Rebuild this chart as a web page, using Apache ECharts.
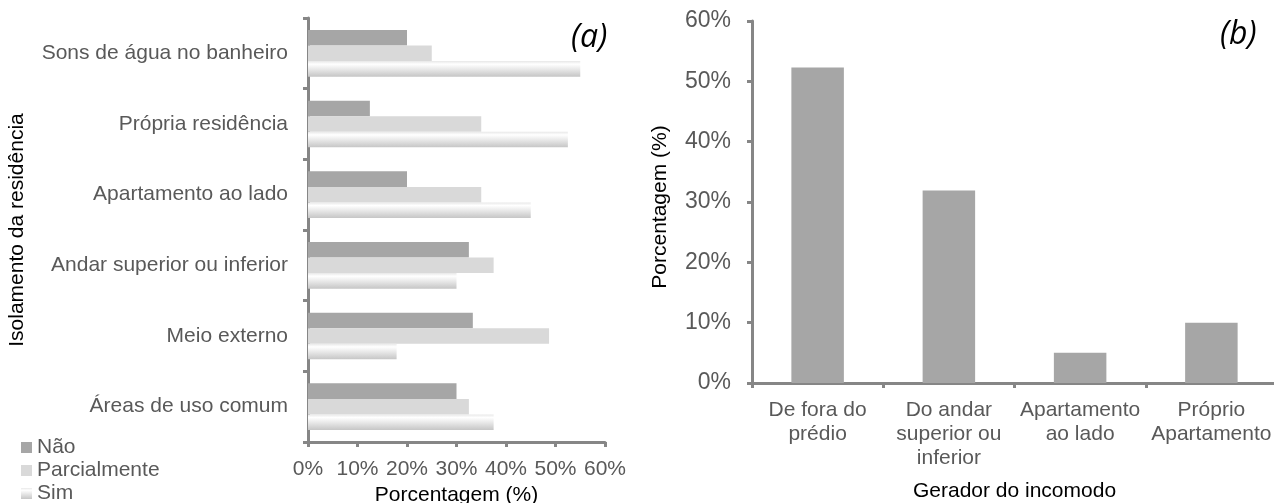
<!DOCTYPE html>
<html>
<head>
<meta charset="utf-8">
<script src="https://cdn.jsdelivr.net/npm/echarts@6/dist/echarts.min.js"></script>
<style>
  html, body { margin: 0; padding: 0; background: #ffffff; }
  #chart { width: 1274px; height: 503px; }
</style>
</head>
<body>
<div id="chart"></div>
<script>
// (a) Isolamento da residência, por fonte de ruído
const categoriesA = [
  'Sons de água no banheiro',
  'Própria residência',
  'Apartamento ao lado',
  'Andar superior ou inferior',
  'Meio externo',
  'Áreas de uso comum'
];
const seriesNames = ['Não', 'Parcialmente', 'Sim'];
const naoValues = [20, 12.5, 20, 32.5, 33.3, 30];
const parcialValues = [25, 35, 35, 37.5, 48.7, 32.5];
const simValues = [55, 52.5, 45, 30, 17.9, 37.5];

// (b) Gerador do incomodo
const categoriesB = [
  'De fora do\nprédio',
  'Do andar\nsuperior ou\ninferior',
  'Apartamento\nao lado',
  'Próprio\nApartamento'
];
const geradorValues = [52.3, 31.9, 5, 10];

// Percentage axis range shared by both panels
const pctMin = 0;
const pctMax = 60;
const pctStep = 10;

const FONT = '"Liberation Sans", Arial, sans-serif';
const AXIS_GRAY = '#868686';
const LABEL_GRAY = '#595959';

const simGradient = new echarts.graphic.LinearGradient(0, 0, 0, 1, [
  { offset: 0, color: '#e8e8e8' },
  { offset: 0.2, color: '#ffffff' },
  { offset: 1, color: '#c6c6c6' }
]);

const axisLine = { show: true, lineStyle: { color: AXIS_GRAY, width: 3 } };
const axisTick = { show: true, length: 5, lineStyle: { color: AXIS_GRAY, width: 3 } };

const chart = echarts.init(document.getElementById('chart'), null, { renderer: 'canvas' });

chart.setOption({
  animation: false,
  textStyle: { fontFamily: FONT },
  grid: [
    { left: 308, top: 18, width: 297, height: 424, containLabel: false, outerBoundsMode: 'none' },
    { left: 752, top: 21, width: 525, height: 362, containLabel: false, outerBoundsMode: 'none' }
  ],
  legend: {
    data: seriesNames,
    orient: 'vertical',
    left: 21,
    top: 437,
    width: 200,
    height: 90,
    padding: 0,
    itemWidth: 11,
    itemHeight: 11,
    itemGap: 2,
    icon: 'rect',
    textStyle: { fontSize: 21, color: LABEL_GRAY, fontFamily: FONT }
  },
  xAxis: [
    {
      gridIndex: 0,
      type: 'value',
      min: pctMin,
      max: pctMax,
      interval: pctStep,
      axisLine: axisLine,
      axisTick: axisTick,
      splitLine: { show: false },
      axisLabel: { formatter: '{value}%', fontSize: 21, color: LABEL_GRAY, margin: 17 },
      name: 'Porcentagem (%)',
      nameLocation: 'middle',
      nameGap: 42,
      nameTextStyle: { fontSize: 21, color: '#000000' }
    },
    {
      gridIndex: 1,
      type: 'category',
      data: categoriesB,
      axisLine: axisLine,
      axisTick: axisTick,
      axisLabel: { fontSize: 21, color: LABEL_GRAY, lineHeight: 24, margin: 15, interval: 0 },
      name: 'Gerador do incomodo',
      nameLocation: 'middle',
      nameGap: 98,
      nameTextStyle: { fontSize: 21, color: '#000000' }
    }
  ],
  yAxis: [
    {
      gridIndex: 0,
      type: 'category',
      data: categoriesA,
      inverse: true,
      axisLine: axisLine,
      axisTick: axisTick,
      axisLabel: { fontSize: 21, color: LABEL_GRAY, margin: 20, interval: 0 },
      name: 'Isolamento da residência',
      nameLocation: 'middle',
      nameGap: 280,
      nameTextStyle: { fontSize: 21, color: '#000000' }
    },
    {
      gridIndex: 1,
      type: 'value',
      min: pctMin,
      max: pctMax,
      interval: pctStep,
      axisLine: axisLine,
      axisTick: axisTick,
      splitLine: { show: false },
      axisLabel: { formatter: '{value}%', fontSize: 23, color: LABEL_GRAY, margin: 21 },
      name: 'Porcentagem (%)',
      nameLocation: 'middle',
      nameGap: 81,
      nameTextStyle: { fontSize: 21, color: '#000000', padding: [0, 10, 0, 0] }
    }
  ],
  series: [
    {
      name: seriesNames[0],
      type: 'bar',
      xAxisIndex: 0,
      yAxisIndex: 0,
      data: naoValues,
      barGap: '0%',
      barCategoryGap: '34%',
      itemStyle: { color: '#a6a6a6' }
    },
    {
      name: seriesNames[1],
      type: 'bar',
      xAxisIndex: 0,
      yAxisIndex: 0,
      data: parcialValues,
      barGap: '0%',
      barCategoryGap: '34%',
      itemStyle: { color: '#d9d9d9' }
    },
    {
      name: seriesNames[2],
      type: 'bar',
      xAxisIndex: 0,
      yAxisIndex: 0,
      data: simValues,
      barGap: '0%',
      barCategoryGap: '34%',
      itemStyle: { color: simGradient }
    },
    {
      name: 'Gerador do incomodo',
      type: 'bar',
      xAxisIndex: 1,
      yAxisIndex: 1,
      data: geradorValues,
      barCategoryGap: '60%',
      itemStyle: { color: '#a6a6a6' }
    }
  ],
  graphic: [
    {
      type: 'text',
      left: 571,
      top: 22,
      style: { text: '(a)', font: 'italic 32px "Open Sans", sans-serif', fill: '#000000' }
    },
    {
      type: 'text',
      left: 1220,
      top: 19,
      style: { text: '(b)', font: 'italic 32px "Open Sans", sans-serif', fill: '#000000' }
    }
  ]
});
</script>
</body>
</html>
